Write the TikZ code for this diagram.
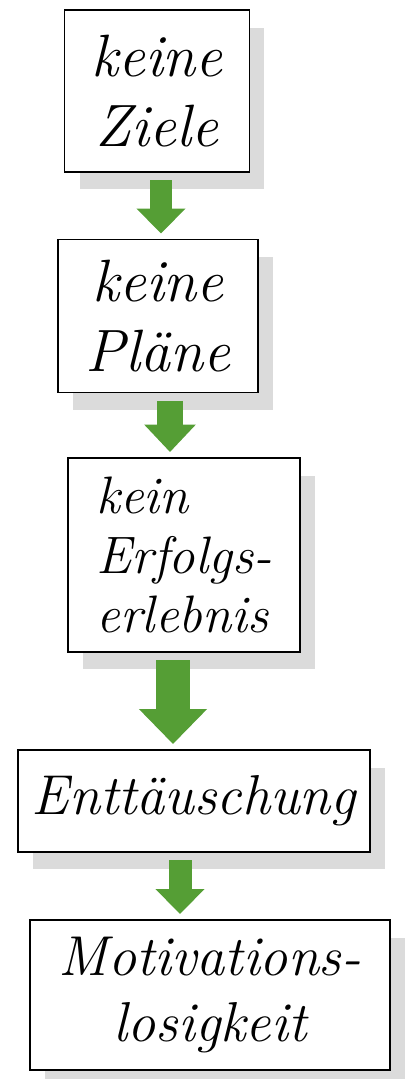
\documentclass[tikz,border=0pt]{standalone}
\usetikzlibrary{arrows.meta,shadows}
\definecolor{pfeilgruen}{HTML}{559E35}
\tikzset{
  kasten/.style={draw=black,line width=1.1pt,fill=white,font=\itshape,inner sep=2pt,
    drop shadow={shadow xshift=0.3cm,shadow yshift=-0.35cm,fill=black!14,opacity=1}},
  pfeil/.style={draw=pfeilgruen,line width=0.46cm,shorten <=0.15cm,shorten >=0.1cm,
    -{Triangle[width=0.95cm,length=0.5cm]}},
  dickpfeil/.style={pfeil,line width=0.68cm,-{Triangle[width=1.32cm,length=0.7cm]}}
}
\begin{document}
\begin{tikzpicture}[x=0.02cm,y=-0.02cm]
\useasboundingbox (0,0) rectangle (409,1079);
% die Kaesten
\node[kasten,minimum width=3.7cm,minimum height=3.24cm,align=center,
  font=\itshape\fontsize{34}{40}\selectfont] (ziele) at (157,91) {keine\\Ziele};
\node[kasten,minimum width=4.0cm,minimum height=3.06cm,align=center,
  font=\itshape\fontsize{34}{40}\selectfont] (plaene) at (158,316) {keine\\Pläne};
\node[kasten,minimum width=4.64cm,minimum height=3.88cm,align=left,
  font=\itshape\fontsize{30}{34}\selectfont] (erfolg) at (184,555) {kein\\Erfolgs-\\erlebnis};
\node[kasten,minimum width=7.04cm,minimum height=2.04cm,
  font=\itshape\fontsize{32}{38}\selectfont] (enttaeusch) at (194,801) {Enttäuschung};
\node[kasten,minimum width=7.2cm,minimum height=3.0cm,align=center,
  font=\itshape\fontsize{32}{38}\selectfont] (motiv) at (210,995) {Motivations-\\losigkeit};
% die Pfeile
\draw[pfeil] ([xshift=0.08cm]ziele.south) -- ([xshift=0.08cm]ziele.south |- plaene.north);
\draw[pfeil,line width=0.52cm,-{Triangle[width=1.0cm,length=0.55cm]}]
  ([xshift=0.24cm]plaene.south) -- ([xshift=0.24cm]plaene.south |- erfolg.north);
\draw[dickpfeil] ([xshift=-0.22cm]erfolg.south) -- ([xshift=-0.22cm]erfolg.south |- enttaeusch.north);
\draw[pfeil] ([xshift=-0.28cm]enttaeusch.south) -- ([xshift=-0.28cm]enttaeusch.south |- motiv.north);
\end{tikzpicture}
\end{document}
